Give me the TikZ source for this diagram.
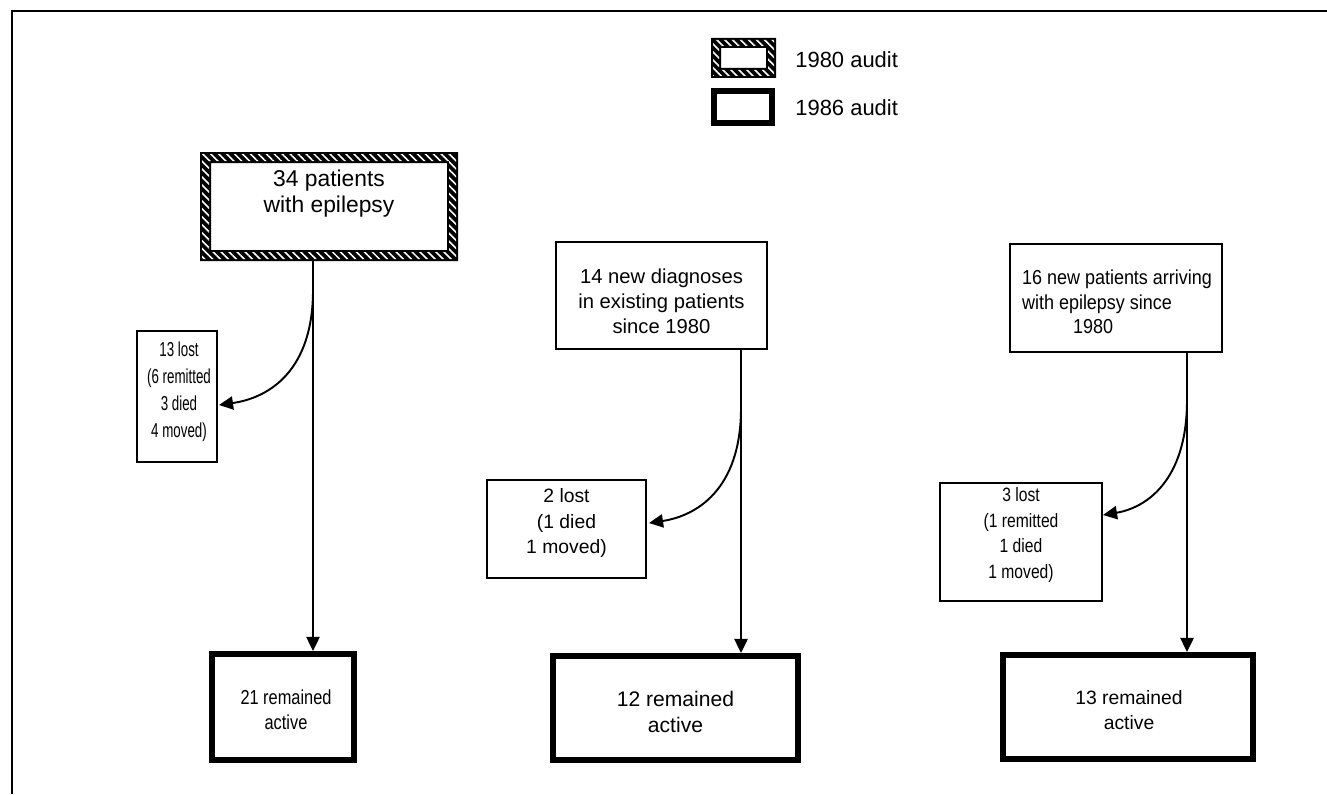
\documentclass[tikz,border=0pt]{standalone}
\usepackage{fontspec}
\setmainfont{Liberation Sans}
\newfontfamily\fsSeventy[FakeStretch=0.66]{Liberation Sans}
\newfontfamily\fsEighty[FakeStretch=0.81]{Liberation Sans}
\newfontfamily\fsNinety[FakeStretch=0.89]{Liberation Sans}
\usetikzlibrary{arrows.meta,patterns.meta}
\newcommand{\pxu}{0.02cm}
\newcommand{\hatchring}[2]{%
  \fill[black,even odd rule] (#1.north west) rectangle (#1.south east)
     ([shift={(#2,#2)}]#1.north west) rectangle ([shift={(-#2,-#2)}]#1.south east);
  \fill[pattern={Lines[angle=-45,distance=3.2pt,line width=0.9pt]},pattern color=white,even odd rule]
     ([shift={(2,2)}]#1.north west) rectangle ([shift={(-2,-2)}]#1.south east)
     ([shift={(#2-2,#2-2)}]#1.north west) rectangle ([shift={(-#2+2,-#2+2)}]#1.south east);
}
\begin{document}
\begin{tikzpicture}[x=0.02cm,y=-0.02cm,
  txt/.style={font=\fontsize{11}{14.5}\selectfont, align=center, inner sep=0},
  sz/.style 2 args={minimum width=#1*\pxu, minimum height=#2*\pxu},
  thinbox/.style={draw, line width=0.9pt, inner sep=0, outer sep=0},
  thickbox/.style={draw, line width=3.4pt, inner sep=0, outer sep=0},
  hatchbox/.style={inner sep=0, outer sep=0},
  arr/.style={line width=1.1pt, -{Triangle[length=8pt,width=7.5pt]}},
]
\useasboundingbox (0,0) rectangle (1327,794);
\draw[line width=1.7pt] (1327,11) -- (12,11) -- (12,794);

% legend
\node[hatchbox, sz={65}{40}] (legH) at (743.5,58) {};
\hatchring{legH}{10}
\node[thickbox, sz={58}{32}] (legT) at (743,107) {};
\node[txt, anchor=west, font=\fontsize{12.5}{15}\selectfont] (legHt) at (795,60) {1980 audit};
\node[txt, anchor=west, font=\fontsize{12.5}{15}\selectfont] (legTt) at (795,108) {1986 audit};

% top boxes
\node[hatchbox, sz={258}{109}] (A) at (329,206.5) {};
\hatchring{A}{11}
\node[txt, font=\fontsize{13}{14.8}\selectfont] (At) at (329,194) {34 patients\\with epilepsy};
\node[thinbox, sz={211}{107}] (B) at (661.5,295.5) {};
\node[txt, font=\fontsize{11.5}{14.3}\selectfont] (Bt) at (661.5,301) {14 new diagnoses\\in existing patients\\since 1980};
\node[thinbox, sz={212}{108}] (C) at (1116,298) {};
\node[txt, align=left, font=\fsNinety\fontsize{11.5}{14}\selectfont] (Ct) at (1117,302) {16 new patients arriving\\with epilepsy since\\\hspace*{29pt}1980};

% lost boxes
\node[thinbox, sz={80}{131}] (lA) at (177,396.5) {};
\node[txt, font=\fsSeventy\fontsize{11.5}{15.3}\selectfont] (lAt) at (179,392) {13 lost\\(6 remitted\\3 died\\4 moved)};
\node[thinbox, sz={159}{98}] (lB) at (566.5,529) {};
\node[txt] (lBt) at (566.5,523) {2 lost\\(1 died\\1 moved)};
\node[thinbox, sz={162}{118}] (lC) at (1021,542) {};
\node[txt, font=\fsEighty\fontsize{11}{14.5}\selectfont] (lCt) at (1021,535) {3 lost\\(1 remitted\\1 died\\1 moved)};

% result boxes
\node[thickbox, sz={142}{106}] (r21) at (283,707) {};
\node[txt, font=\fsEighty\fontsize{11.5}{14.3}\selectfont] (r21t) at (286,710) {21 remained\\active};
\node[thickbox, sz={245}{104}] (r12) at (675.5,708) {};
\node[txt, font=\fontsize{12}{14.3}\selectfont] (r12t) at (675.5,712) {12 remained\\active};
\node[thickbox, sz={250}{104}] (r13) at (1128,707) {};
\node[txt, font=\fontsize{11}{14.3}\selectfont] (r13t) at (1129,710) {13 remained\\active};

% connectors
\coordinate (xa) at (313,0);
\coordinate (xb) at (741,0);
\coordinate (xc) at (1187,0);
\draw[arr, shorten >=1.7pt] (A.south -| xa) -- (r21.north -| xa);
\draw[arr, shorten >=1.7pt] (B.south -| xb) -- (r12.north -| xb);
\draw[arr, shorten >=1.7pt] (C.south -| xc) -- (r13.north -| xc);

\coordinate (ca) at (313,290);
\coordinate (cb) at (741,408);
\coordinate (cc) at (1187,400);
\draw[arr] (ca) .. controls (313,372) and (268,398) .. ([shift={(2,8.5)}]lA.east);
\draw[arr] (cb) .. controls (741,490) and (696,516) .. ([shift={(3,-6)}]lB.east);
\draw[arr] (cc) .. controls (1187,482) and (1145,508) .. ([shift={(1,-27)}]lC.east);
\end{tikzpicture}
\end{document}
